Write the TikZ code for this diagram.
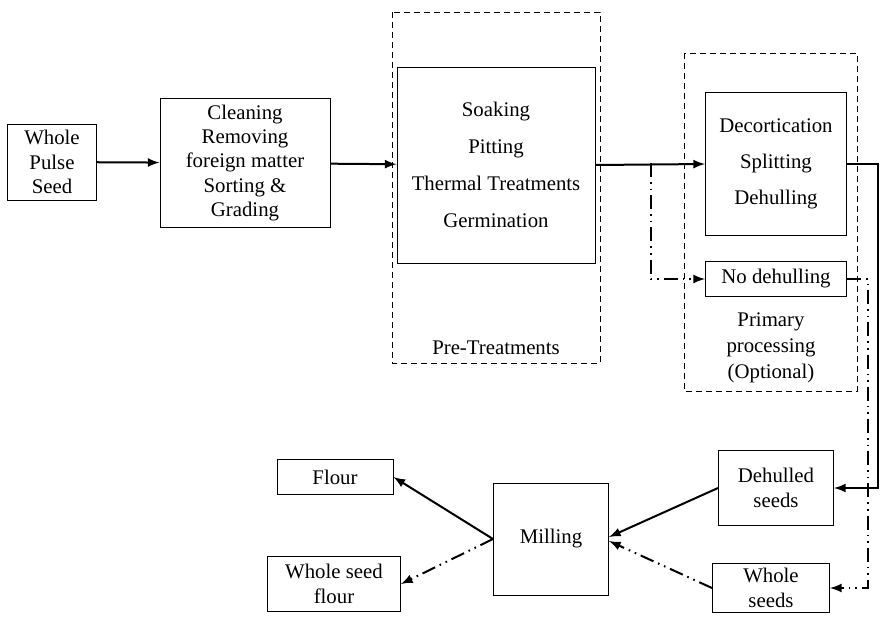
\documentclass[tikz,border=0pt]{standalone}
\usepackage{fontspec}
\setmainfont{Liberation Serif}
\usepackage{tikz}
\usetikzlibrary{arrows}

\tikzset{
  box/.style={draw, line width=0.5pt, align=center, inner sep=0pt},
  flow/.style={-latex, line width=1pt},
  alt/.style={-latex, line width=1pt, dash pattern=on 7pt off 2.5pt on 0.8pt off 2.5pt on 0.8pt off 2.5pt},
  frame/.style={line width=0.5pt, dash pattern=on 3pt off 2pt}
}

\begin{document}
\begin{tikzpicture}[x=0.5pt,y=-0.5pt,font=\fontsize{10.4}{12.2}\selectfont]
    \useasboundingbox (0,0) rectangle (891,618);
    % Draw the dashed frames
    \draw[frame] (392,12) rectangle (600,363);
    \draw[frame] (684,53) rectangle (857,391);
    % Draw the boxes of the first row
    \node[box, minimum width=44.5pt, minimum height=38pt] (seed) at (52,162) {Whole\\Pulse\\Seed};
    \node[box, minimum width=85pt, minimum height=64.5pt] (clean) at (245,163) {Cleaning\\Removing\\foreign matter\\Sorting \&\\Grading};
    \node[box, minimum width=99pt, minimum height=98pt] (pre) at (496,165) {Soaking\\[6.3pt]Pitting\\[6.3pt]Thermal Treatments\\[6.3pt]Germination};
    \node (prelbl) at (496,348) {Pre-Treatments};
    \node[box, minimum width=70.5pt, minimum height=71.5pt] (dec) at (776,164) {Decortication\\[5.8pt]Splitting\\[5.8pt]Dehulling};
    \node[box, minimum width=70.5pt, minimum height=17.5pt] (nodeh) at (776,279) {No dehulling};
    \node[align=center] (primlbl) at (771,348) {Primary\\[0.8pt]processing\\[0.8pt](Optional)};
    % Draw the boxes of the second row
    \node[box, minimum width=57.5pt, minimum height=37.5pt] (dehulled) at (776,488) {Dehulled\\seeds};
    \node[box, minimum width=58.5pt, minimum height=24.5pt] (whole) at (771,588) {Whole\\seeds};
    \node[box, minimum width=57.5pt, minimum height=56pt] (mill) at (551,539) {Milling};
    \node[box, minimum width=58pt, minimum height=17.5pt] (flour) at (335,477) {Flour};
    \node[box, minimum width=66.5pt, minimum height=27.5pt] (wsflour) at (334,584) {Whole seed\\flour};
    % Draw the connectors
    \coordinate (split) at (651,163);
    \coordinate (rt) at (878,0);
    \coordinate (rw) at (868,0);
    \draw[flow] (seed) -- (clean);
    \draw[flow] (clean) -- (pre);
    \draw[flow] (pre.east) -- (dec.west);
    \draw[alt] (split) |- (nodeh.west);
    \draw[flow] (dec.east) -- (dec.east -| rt) -- (rt |- dehulled.east) -- (dehulled.east);
    \draw[alt] (nodeh.east) -- (nodeh.east -| rw) -- (rw |- whole.east) -- (whole.east);
    \draw[flow] (dehulled.west) -- ([yshift=1pt]mill.east);
    \draw[alt] (whole.west) -- ([yshift=-1pt]mill.east);
    \draw[flow] (mill.west) -- (flour.east);
    \draw[alt] (mill.west) -- (wsflour.east);
\end{tikzpicture}
\end{document}
